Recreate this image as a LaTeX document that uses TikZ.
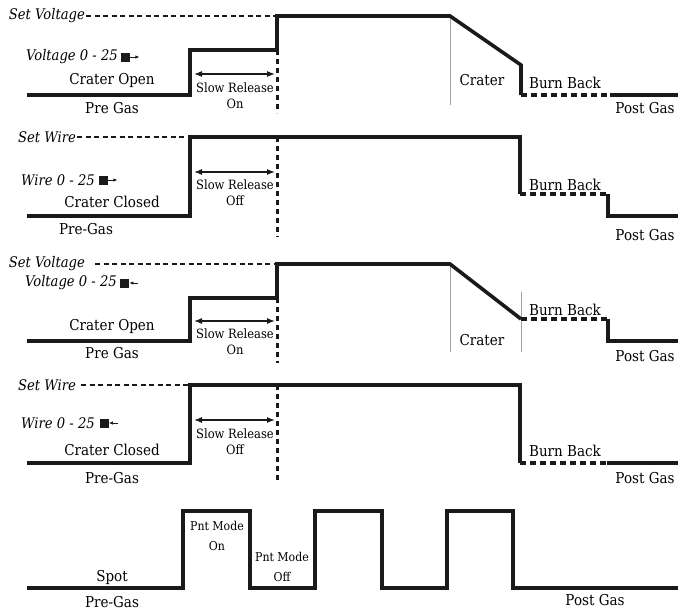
\documentclass[tikz,border=0pt]{standalone}
\usepackage{fontspec}
\setmainfont{DejaVu Serif}[FakeStretch=0.9]
\usepackage{tikz}
\usetikzlibrary{positioning,arrows.meta}
\usepackage{xcolor}
\definecolor{trace}{HTML}{1A1A1A}
\definecolor{guide}{HTML}{A0A0A0}

\tikzset{
  wave/.style={draw=trace,line width=3.6pt},
  burnback/.style={draw=trace,line width=3.6pt,dash pattern=on 6pt off 4pt},
  setlevel/.style={draw=trace,line width=1.2pt,dash pattern=on 5pt off 3.5pt},
  release/.style={draw=trace,line width=3pt,dash pattern=on 5pt off 4pt},
  guideline/.style={draw=guide,line width=0.8pt},
  lbl/.style={font=\fontsize{15}{17}\selectfont,inner sep=0pt},
  ilbl/.style={font=\fontsize{14.6}{17}\selectfont\itshape,inner sep=1pt},
  slbl/.style={font=\fontsize{12.8}{16}\selectfont,inner sep=0pt,align=center},
  plbl/.style={font=\fontsize{12.2}{20}\selectfont,inner sep=0pt,align=center},
  knob/.style={fill=trace,minimum size=9pt,inner sep=0pt},
  spanarrow/.style={draw=trace,line width=1.2pt,{Latex[length=8pt,width=6pt]}-{Latex[length=8pt,width=6pt]}},
  nudge/.style={draw=trace,line width=0.9pt,-{Latex[length=4pt,width=3.5pt]}}
}

\begin{document}
\begin{tikzpicture}[x=1pt,y=-1pt]
  \useasboundingbox (0,0) rectangle (678,611);

  % crater open, voltage
  \coordinate (a0) at (27,95);
  \coordinate (a1) at (190,95);
  \coordinate (a2) at (190,50);
  \coordinate (a3) at (277,50);
  \coordinate (a4) at (277,16);
  \coordinate (a5) at (450,16);
  \coordinate (a6) at (521,65);
  \coordinate (a7) at (521,95);
  \coordinate (a8) at (610,95);
  \coordinate (a9) at (678,95);
  \node[ilbl,anchor=east] (setv1) at (86,16) {Set Voltage};
  \node[ilbl,anchor=east] (volt1) at (119,57) {Voltage 0 - 25};
  \node[knob,right=2pt of volt1] (knob1) {};
  \coordinate[right=9pt of knob1] (knob1a);
  \node[lbl] (crater1) at (112,80) {Crater Open};
  \node[lbl] (pregas1) at (112,108) {Pre Gas};
  \node[slbl] (slow1) at (235,96) {Slow Release\\On};
  \node[lbl] (crt1) at (482,80) {Crater};
  \node[lbl] (burn1) at (565,83) {Burn Back};
  \node[lbl] (post1) at (645,108) {Post Gas};
  \coordinate (s1l) at (194,74);
  \coordinate (s1r) at (275,74);
  \draw[setlevel] (setv1.east) -- (a4);
  \draw[nudge] (knob1.east) -- (knob1a);
  \draw[spanarrow] (s1l) -- (s1r);
  \draw[release] (a3) -- ++(0,63);
  \draw[guideline] (a5) -- ++(0,89);
  \draw[wave] (a0) -- (a1) -- (a2) -- (a3) -- (a4) -- (a5) -- (a6) -- (a7);
  \draw[burnback] (a7) -- (a8);
  \draw[wave] (a8) -- (a9);

  % crater closed, wire
  \coordinate (b0) at (27,216);
  \coordinate (b1) at (190,216);
  \coordinate (b2) at (190,137);
  \coordinate (b3) at (520,137);
  \coordinate (b4) at (520,194);
  \coordinate (b5) at (608,194);
  \coordinate (b6) at (608,216);
  \coordinate (b7) at (678,216);
  \coordinate (b8) at (277,137);
  \node[ilbl,anchor=east] (setw2) at (77,137) {Set Wire};
  \node[ilbl,anchor=east] (wire2) at (96,180) {Wire 0 - 25};
  \node[knob,right=3pt of wire2] (knob2) {};
  \coordinate[right=9pt of knob2] (knob2a);
  \node[lbl] (crater2) at (112,202) {Crater Closed};
  \node[lbl] (pregas2) at (86,229) {Pre-Gas};
  \node[slbl] (slow2) at (235,193) {Slow Release\\Off};
  \node[lbl] (burn2) at (565,185) {Burn Back};
  \node[lbl] (post2) at (645,235) {Post Gas};
  \coordinate (s2l) at (194,172);
  \coordinate (s2r) at (275,172);
  \draw[setlevel] (setw2.east) -- (b2);
  \draw[nudge] (knob2.east) -- (knob2a);
  \draw[spanarrow] (s2l) -- (s2r);
  \draw[release] (b8) -- ++(0,100);
  \draw[wave] (b0) -- (b1) -- (b2) -- (b3) -- (b4);
  \draw[burnback] (b4) -- (b5);
  \draw[wave] (b5) -- (b6) -- (b7);

  % crater open, voltage, reversed knob
  \coordinate (c0) at (27,341);
  \coordinate (c1) at (190,341);
  \coordinate (c2) at (190,298);
  \coordinate (c3) at (277,298);
  \coordinate (c4) at (277,264);
  \coordinate (c5) at (450,264);
  \coordinate (c6) at (521,319);
  \coordinate (c7) at (608,319);
  \coordinate (c8) at (608,341);
  \coordinate (c9) at (678,341);
  \node[ilbl,anchor=east] (setv3) at (86,264) {Set Voltage};
  \node[ilbl,anchor=east] (volt3) at (118,283) {Voltage 0 - 25};
  \node[knob,right=2pt of volt3] (knob3) {};
  \coordinate[right=9pt of knob3] (knob3a);
  \node[lbl] (crater3) at (112,326) {Crater Open};
  \node[lbl] (pregas3) at (112,353) {Pre Gas};
  \node[slbl] (slow3) at (235,342) {Slow Release\\On};
  \node[lbl] (crt3) at (482,340) {Crater};
  \node[lbl] (burn3) at (565,310) {Burn Back};
  \node[lbl] (post3) at (645,356) {Post Gas};
  \coordinate (s3l) at (194,321);
  \coordinate (s3r) at (275,321);
  \draw[setlevel] ([xshift=9pt]setv3.east) -- (c4);
  \draw[nudge] (knob3a) -- (knob3.east);
  \draw[spanarrow] (s3l) -- (s3r);
  \draw[release] (c3) -- ++(0,65);
  \draw[guideline] (c5) -- ++(0,88);
  \draw[guideline] (c6) ++(0,-27) -- ++(0,60);
  \draw[wave] (c0) -- (c1) -- (c2) -- (c3) -- (c4) -- (c5) -- (c6);
  \draw[burnback] (c6) -- (c7);
  \draw[wave] (c7) -- (c8) -- (c9);

  % crater closed, wire, reversed knob
  \coordinate (d0) at (27,463);
  \coordinate (d1) at (190,463);
  \coordinate (d2) at (190,385);
  \coordinate (d3) at (520,385);
  \coordinate (d4) at (520,463);
  \coordinate (d5) at (607,463);
  \coordinate (d6) at (678,463);
  \coordinate (d7) at (277,385);
  \node[ilbl,anchor=east] (setw4) at (77,385) {Set Wire};
  \node[ilbl,anchor=east] (wire4) at (96,423) {Wire 0 - 25};
  \node[knob,right=3.5pt of wire4] (knob4) {};
  \coordinate[right=9pt of knob4] (knob4a);
  \node[lbl] (crater4) at (112,450) {Crater Closed};
  \node[lbl] (pregas4) at (112,478) {Pre-Gas};
  \node[slbl] (slow4) at (235,442) {Slow Release\\Off};
  \node[lbl] (burn4) at (565,451) {Burn Back};
  \node[lbl] (post4) at (645,478) {Post Gas};
  \coordinate (s4l) at (194,420);
  \coordinate (s4r) at (275,420);
  \draw[setlevel] ([xshift=4pt]setw4.east) -- (d2);
  \draw[nudge] (knob4a) -- (knob4.east);
  \draw[spanarrow] (s4l) -- (s4r);
  \draw[release] (d7) -- ++(0,95);
  \draw[wave] (d0) -- (d1) -- (d2) -- (d3) -- (d4);
  \draw[burnback] (d4) -- (d5);
  \draw[wave] (d5) -- (d6);

  % spot, point mode
  \node[lbl] (spot5) at (112,577) {Spot};
  \node[lbl] (pregas5) at (112,602) {Pre-Gas};
  \node[plbl] (pnton5) at (217,536) {Pnt Mode\\On};
  \node[plbl] (pntoff5) at (282,567) {Pnt Mode\\Off};
  \node[lbl] (post5) at (595,600) {Post Gas};
  \draw[wave] (27,588) -- (183,588) -- (183,511) -- (250,511) -- (250,588)
    -- (315,588) -- (315,511) -- (382,511) -- (382,588) -- (447,588)
    -- (447,511) -- (513,511) -- (513,588) -- (678,588);
\end{tikzpicture}
\end{document}
